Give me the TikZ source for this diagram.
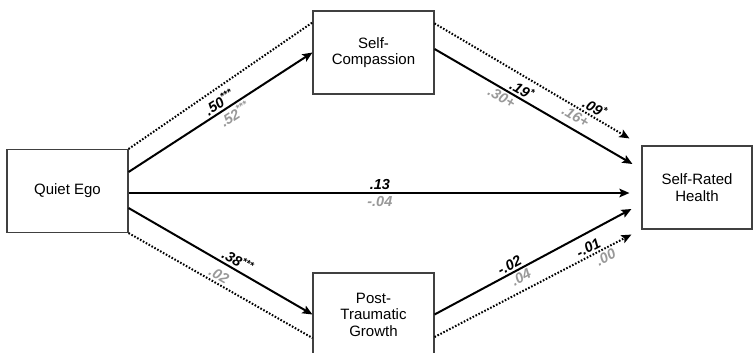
\documentclass[tikz,border=0pt]{standalone}
\usepackage{fontspec}
\setmainfont{Liberation Sans}
\usetikzlibrary{arrows.meta}

\begin{document}
\begin{tikzpicture}[x = 1pt, y = -1pt,
	var/.style = {draw = black!75, line width = 1.1pt, minimum width = 121pt, minimum height = 83pt, align = center, inner sep = 0pt, font = \fontsize{15}{16.5}\selectfont},
	tip/.style = {-{Stealth[length = 10pt, width = 8.5pt, inset = 2pt]}},
	effect/.style = {tip, line width = 2pt},
	indirect/.style = {line width = 2pt, dash pattern = on 1.6pt off 1.7pt},
	coef/.style = {sloped, inner sep = 2pt, font = \fontsize{14.5}{14.5}\selectfont\bfseries\itshape},
	boot/.style = {coef, text = black!40}]
	\useasboundingbox (0,0) rectangle (753,353);
	\node[var] (QE) at (67.5,191) {Quiet Ego};
	\node[var] (SC) at (373.5,52.5) {Self-\\Compassion};
	\node[var] (PTG) at (373.5,314.5) {Post-\\Traumatic\\Growth};
	\node[var, minimum width = 110pt] (SRH) at (697,187.5) {Self-Rated\\Health};

	\draw[effect] ([yshift = 19pt]QE.east) -- (SC.west)
		node[coef, above, pos = 0.52]{.50\textsuperscript{***}}
		node[boot, below, pos = 0.55]{.52\textsuperscript{***}};
	\draw[indirect] (QE.north east) -- ([yshift = -12pt]SC.north west);
	\draw[effect, line width = 2.8pt, shorten > = 12pt] ([yshift = -2pt]QE.east) -- ([yshift = -2pt]QE.east -| SRH.west)
		node[coef, above, pos = 0.49]{.13}
		node[boot, below, pos = 0.49]{-.04};
	\draw[effect] ([yshift = -17pt]QE.east) -- (PTG.west)
		node[coef, above, pos = 0.57]{.38\textsuperscript{***}};
	\draw[indirect] (QE.south east) -- ([yshift = -23.5pt]PTG.west)
		node[boot, above, pos = 0.47]{.02};

	\draw[effect] ([yshift = 3.5pt]SC.east) -- ([xshift = -9pt, yshift = 23.5pt]SRH.west)
		node[coef, above, pos = 0.42]{.19\textsuperscript{*}}
		node[boot, below, pos = 0.36]{.30+};
	\draw[indirect, tip] ([yshift = -13pt]SC.north east) -- ([xshift = -12pt, yshift = 7pt]SRH.north west)
		node[coef, above, pos = 0.8]{.09\textsuperscript{*}}
		node[boot, below, pos = 0.745]{.16+};
	\draw[effect] (PTG.east) -- ([xshift = -10pt, yshift = -21.5pt]SRH.west)
		node[coef, above, pos = 0.4]{-.02}
		node[boot, below, pos = 0.42]{.04};
	\draw[indirect, tip] ([yshift = -22.5pt]PTG.east) -- ([xshift = -10pt, yshift = -5pt]SRH.south west)
		node[coef, above, pos = 0.8]{-.01}
		node[boot, below, pos = 0.85]{.00};
\end{tikzpicture}
\end{document}
